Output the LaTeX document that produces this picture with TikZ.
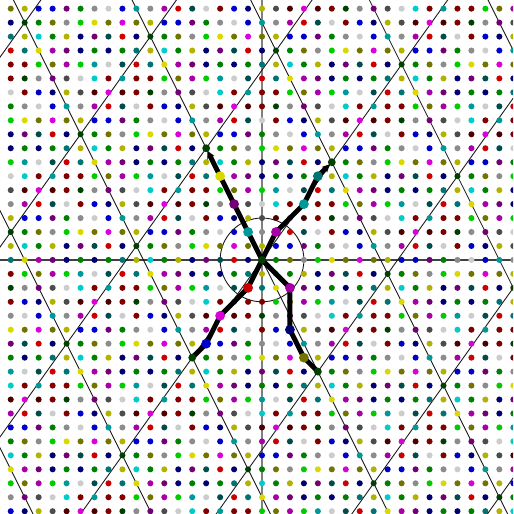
\documentclass[tikz,border=0pt]{standalone}
\usetikzlibrary{arrows.meta}

\definecolor{G1}{rgb}{0,0.25,0}
\definecolor{G2}{rgb}{0,0.5,0}
\definecolor{G3}{rgb}{0,0.8,0}
\definecolor{B1}{rgb}{0,0,0.45}
\definecolor{B3}{rgb}{0,0,0.8}
\definecolor{R1}{rgb}{0.3,0,0}
\definecolor{R2}{rgb}{0.5,0,0}
\definecolor{R3}{rgb}{0.8,0,0}
\definecolor{Y1}{rgb}{0.45,0.45,0}
\definecolor{Y2}{rgb}{0.7,0.7,0}
\definecolor{Y3}{rgb}{0.85,0.85,0}
\definecolor{M1}{rgb}{0.45,0,0.45}
\definecolor{M3}{rgb}{0.65,0,0.65}
\definecolor{M4}{rgb}{0.85,0,0.85}
\definecolor{T1}{rgb}{0,0.3,0.3}
\definecolor{T2}{rgb}{0,0.45,0.45}
\definecolor{T3}{rgb}{0,0.6,0.6}
\definecolor{C4}{rgb}{0,0.8,0.8}
\definecolor{K1}{rgb}{0.3,0.3,0.3}
\definecolor{K2}{rgb}{0.55,0.55,0.55}
\definecolor{K3}{rgb}{0.8,0.8,0.8}

\def\palette{{"G1","Y2","K2","K1","K3","G3","B1","B1","G3","G2",
  "K3","R2","R2","R3","T2","B1","Y1","T3","Y2","K1",
  "M3","M1","Y2","K2","M1","T1","R1","T3","T1","G2",
  "R3","M4","B3","B1","M1","Y1","M3","G2","Y1","B3",
  "R3","M4","R2","K3","B1","T1","Y1","K3","B3","K2",
  "G3","Y3","C4","G2","B3","M3","R1","C4","T3","G2",
  "M1","Y3","K2","R2","G1","R2","T2","Y2"}}

\begin{document}
\begin{tikzpicture}[
  x=0.5cm, y=0.5cm,
  latline/.style={black!90, line width=0.9pt},
  axisline/.style={line width=1.7pt},
  walk/.style={line width=5pt, line join=round, black},
  walkarrow/.style={walk, -{Stealth[length=8pt,width=8pt]}, shorten >=3pt}
]
\useasboundingbox (-18.77,-18.2) rectangle (17.98,18.62);
\clip (-18.77,-18.2) rectangle (17.98,18.62);

\draw[axisline, black!75] (-19,0) -- (19,0);
\draw[axisline, black!50] (0,-19) -- (0,19);

\foreach \n in {-5,...,5}{
  \draw[latline] ({-4*\n-25},{8*\n-35}) -- ({-4*\n+25},{8*\n+35});
  \draw[latline] ({5*\n+20},{7*\n-40}) -- ({5*\n-20},{7*\n+40});
}
\draw[latline] (0,0) circle (3);

\foreach \i in {-19,...,19}{
  \foreach \j in {-19,...,19}{
    \pgfmathtruncatemacro\r{mod(\j-15*\i+680,68)}
    \pgfmathsetmacro\cname{\palette[\r]}
    \fill[\cname] (\i,\j) circle (3.1pt);
  }
}

\coordinate (O) at (0,0);
\coordinate (endA) at (-4,8);
\coordinate (endB) at (5,7);
\coordinate (endC) at (-5,-7);
\coordinate (endD) at (4,-8);

\draw[walkarrow] (O) -- (-1,2) -- (-2,4) -- (-3,6) -- (endA);
\draw[walkarrow] (O) -- (1,2) -- (3,4) -- (4,6) -- (endB);
\draw[walk] (O) -- (-1,-2) -- (-3,-4) -- (-4,-6) -- (endC);
\draw[walk] (O) -- (2,-2) -- (2,-5) -- (3,-7) -- (endD);

\foreach \p/\c in {(-1,2)/T3,(-2,4)/M1,(-3,6)/Y3,(1,2)/M3,(3,4)/T3,(4,6)/T2,
  (-1,-2)/R3,(-3,-4)/M4,(-4,-6)/B3,(2,-2)/M3,(2,-5)/B1,(3,-7)/Y1}
  \fill[\c] \p circle (5pt);
\foreach \p in {O,endA,endB,endC,endD}
  \fill[G1] (\p) circle (4pt);

\end{tikzpicture}
\end{document}
